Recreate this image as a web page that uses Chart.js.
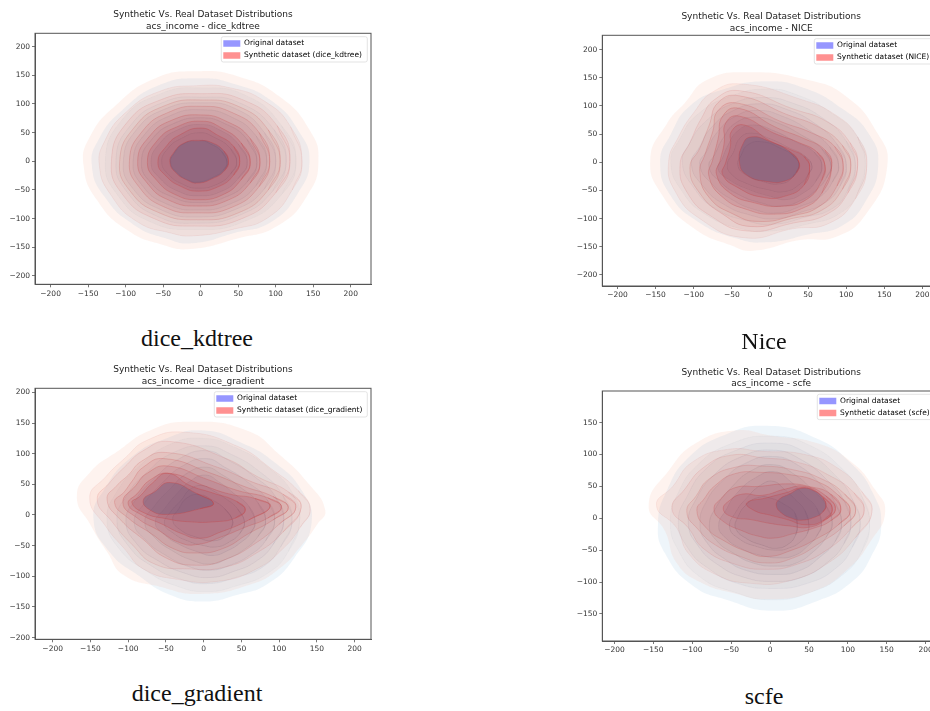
<!DOCTYPE html>
<html>
<head>
<title>Synthetic Vs. Real Dataset Distributions</title>
<script src="https://cdn.jsdelivr.net/npm/chart.js"></script>
<style>
html, body { margin: 0; padding: 0; background: #fff; overflow: hidden; width: 930px; height: 711px; }
canvas { position: absolute; filter: blur(0.45px); }
.caption { position: absolute; font-family: "Liberation Serif", serif; font-size: 24px; color: #111; transform: translateX(-50%); white-space: nowrap; line-height: 28px; }
</style>
</head>
<body>
<canvas id="c1" width="400" height="320" style="left:0;top:0"></canvas>
<canvas id="c2" width="400" height="320" style="left:560px;top:0"></canvas>
<canvas id="c3" width="400" height="320" style="left:0;top:355px"></canvas>
<canvas id="c4" width="400" height="320" style="left:560px;top:355px"></canvas>
<div class="caption" style="left:197px;top:324px">dice_kdtree</div>
<div class="caption" style="left:764px;top:327px">Nice</div>
<div class="caption" style="left:197px;top:679px">dice_gradient</div>
<div class="caption" style="left:764px;top:682px">scfe</div>

<script>
// tick labels
const ticks400 = [-200, -150, -100, -50, 0, 50, 100, 150, 200];
const ticks150 = [-150, -100, -50, 0, 50, 100, 150];

const kdtreeOriginal = [
  [145,0, 132,50, 95,105, 45,135, -3,145, -55,133, -104,90, -136,38, -145,-8, -128,-62, -90,-110, -45,-135, -12,-143, 45,-125, 95,-105, 130,-55],
  [127,0, 108,62, 60,115, 0,128, -55,117, -105,72, -127,0, -110,-60, -68,-105, -8,-119, 58,-105, 108,-58],
  [114,0, 98,55, 52,102, 0,112, -50,103, -94,62, -113,0, -98,-54, -58,-96, -6,-108, 52,-94, 96,-52],
  [100,0, 85,50, 46,92, 0,102, -46,92, -85,56, -103,0, -90,-48, -52,-85, -5,-97, 46,-84, 85,-48],
  [88,0, 74,44, 40,78, 0,90, -40,80, -74,48, -90,0, -78,-42, -46,-74, -4,-85, 40,-74, 74,-42],
  [75,-2, 62,38, 32,66, 0,76, -36,66, -64,40, -79,-1, -66,-38, -38,-62, -4,-72, 34,-62, 62,-36],
  [62,-2, 50,30, 26,54, 0,64, -30,55, -54,32, -66,-2, -54,-30, -30,-52, -3,-60, 28,-52, 50,-30],
  [48,-2, 40,22, 18,42, -2,50, -26,40, -44,22, -52,-2, -42,-24, -24,-40, -4,-47, 22,-40, 40,-22],
  [35,-2, 28,17, 12,31, -2,37, -22,31, -35,14, -40,-3, -31,-20, -16,-33, -2,-36, 16,-28, 30,-16]
];
const kdtreeSynthetic = [
  [157,0, 145,55, 105,113, 50,148, -5,157, -60,145, -113,98, -148,42, -156,-8, -138,-68, -98,-120, -50,-146, -14,-153, 48,-135, 102,-113, 142,-60],
  [135,0, 120,60, 85,105, 40,128, -5,132, -55,122, -100,85, -128,35, -135,-8, -120,-58, -85,-105, -40,-125, -10,-130, 45,-118, 90,-98, 122,-50],
  [119,0, 102,62, 55,108, 0,118, -52,108, -98,68, -119,0, -104,-58, -62,-100, -8,-113, 55,-100, 100,-55],
  [106,0, 90,55, 50,96, 0,107, -48,97, -88,60, -108,0, -94,-52, -55,-90, -5,-102, 50,-90, 90,-50],
  [92,0, 78,50, 42,85, 0,96, -42,86, -78,52, -95,0, -82,-45, -48,-80, -5,-90, 42,-80, 78,-44],
  [79,-2, 66,40, 34,70, 0,81, -38,72, -68,44, -84,0, -70,-40, -42,-68, -5,-78, 36,-68, 66,-38],
  [66,-2, 54,32, 28,58, 2,70, -32,60, -58,36, -71,-2, -58,-34, -34,-58, -4,-67, 30,-58, 54,-32],
  [52,0, 44,26, 22,46, 0,58, -28,46, -46,26, -57,-2, -46,-26, -26,-44, -4,-52, 24,-44, 44,-24],
  [37,0, 31,18, 14,33, -2,36, -22,32, -36,15, -41,-2, -33,-20, -18,-33, -4,-38, 16,-30, 32,-16]
];
const niceOriginal = [
  [142,-5, 130,50, 95,95, 45,132, -5,144, -60,130, -105,100, -130,50, -144,0, -130,-60, -95,-105, -45,-135, -5,-142, 50,-128, 95,-112, 125,-70],
  [125,-3, 115,45, 80,88, 35,120, -5,130, -50,118, -95,85, -118,42, -130,0, -115,-52, -85,-92, -38,-118, 0,-122, 48,-110, 90,-92, 115,-55],
  [112,-5, 100,38, 70,78, 28,106, -8,115, -48,105, -85,72, -105,35, -115,0, -100,-45, -72,-82, -30,-104, 5,-110, 45,-98, 82,-82, 102,-50],
  [100,-5, 88,32, 60,68, 22,94, -12,104, -48,92, -78,60, -92,28, -103,-3, -88,-42, -60,-75, -25,-94, 8,-100, 42,-88, 72,-72, 92,-42],
  [90,-5, 78,28, 50,58, 16,82, -15,92, -45,82, -70,52, -82,22, -92,-5, -75,-40, -50,-66, -20,-84, 10,-90, 40,-78, 65,-62, 82,-35],
  [80,-5, 68,24, 42,48, 10,70, -18,80, -45,70, -62,42, -72,15, -80,-8, -65,-35, -40,-58, -12,-72, 15,-78, 40,-68, 60,-50, 74,-28],
  [68,-6, 58,18, 34,36, 5,56, -22,66, -42,56, -55,30, -62,8, -68,-12, -52,-32, -28,-48, 0,-60, 22,-66, 44,-54, 60,-34],
  [55,-6, 45,12, 25,26, 0,42, -25,52, -40,42, -48,18, -56,-4, -50,-22, -30,-38, -5,-48, 20,-52, 40,-38, 50,-22],
  [38,-4, 30,12, 12,26, -8,36, -28,32, -38,12, -42,-6, -32,-22, -10,-34, 14,-38, 30,-26]
];
const niceSynthetic = [
  [154,-5, 140,54, 100,117, 50,146, -30,160, -83,146, -112,105, -135,69, -157,5, -140,-61, -100,-117, -52,-147, -22,-157, 39,-138, 87,-132, 127,-90],
  [127,-5, 115,45, 85,85, 40,112, -37,139, -75,125, -100,88, -120,45, -133,0, -125,-50, -92,-100, -33,-134, 30,-118, 78,-108, 112,-65],
  [115,-5, 105,35, 75,72, 30,95, -39,127, -72,112, -90,78, -105,35, -118,-5, -108,-55, -78,-95, -30,-122, 30,-108, 75,-92, 102,-55],
  [106,-5, 95,30, 65,62, 22,85, -40,118, -68,106, -80,65, -92,25, -105,-10, -92,-55, -62,-92, -25,-114, 28,-100, 68,-85, 95,-48],
  [96,-5, 85,28, 55,52, 15,72, -42,105, -68,92, -75,55, -85,15, -92,-18, -80,-62, -48,-92, -15,-105, 30,-95, 65,-78, 88,-42],
  [81,-5, 72,22, 45,42, 8,62, -41,96, -62,82, -68,42, -75,5, -80,-25, -62,-62, -30,-84, 5,-92, 42,-82, 68,-55],
  [72,-5, 62,18, 38,35, 5,52, -40,82, -58,70, -60,35, -65,5, -70,-22, -52,-55, -20,-72, 15,-78, 48,-66, 68,-32],
  [52,-8, 45,10, 28,22, 0,38, -33,66, -50,56, -52,28, -58,0, -62,-22, -42,-45, -10,-62, 20,-60, 45,-40],
  [38,0, 25,20, 0,37, -25,45, -36,31, -40,0, -31,-22, -4,-34, 20,-33, 35,-18]
];
const gradientOriginal = [
  [143,-12, 130,40, 95,85, 50,118, 0,138, -50,125, -95,95, -130,45, -146,-5, -125,-60, -85,-100, -45,-130, 0,-141, 45,-130, 85,-112, 120,-70],
  [127,-10, 118,35, 85,78, 42,110, 0,125, -45,115, -85,80, -115,38, -128,-8, -112,-55, -75,-92, -38,-115, 3,-125, 45,-115, 85,-95, 112,-60],
  [117,-10, 105,32, 75,70, 35,100, 2,113, -40,102, -75,70, -102,32, -115,-8, -100,-50, -68,-84, -30,-105, 5,-112, 42,-102, 78,-85, 102,-52],
  [106,-10, 95,30, 68,62, 32,90, 3,105, -32,92, -65,60, -90,25, -103,-10, -88,-48, -60,-75, -25,-95, 8,-102, 40,-92, 70,-75, 92,-48],
  [94,-10, 84,25, 58,54, 28,78, 3,92, -28,80, -55,52, -78,20, -92,-12, -76,-42, -50,-66, -20,-84, 8,-90, 35,-82, 62,-65, 82,-42],
  [82,-10, 72,20, 50,44, 24,66, 3,78, -22,68, -45,42, -65,15, -78,-12, -64,-38, -42,-58, -15,-74, 10,-80, 30,-72, 54,-56, 72,-35],
  [68,-12, 60,14, 40,35, 20,54, 2,65, -18,55, -36,34, -52,10, -64,-12, -52,-32, -32,-48, -8,-60, 12,-66, 32,-58, 50,-44, 62,-30],
  [54,-12, 45,10, 30,26, 12,40, -2,48, -18,42, -30,24, -44,5, -52,-14, -40,-30, -22,-42, 0,-50, 18,-52, 34,-44, 48,-30],
  [38,-8, 28,10, 12,24, -5,33, -22,28, -33,10, -41,-8, -30,-25, -10,-36, 13,-42, 30,-33, 37,-20]
];
const gradientSynthetic = [
  [161,8, 139,51, 101,98, 57,138, -18,152, -71,138, -115,103, -150,70, -168,30, -150,-16, -128,-60, -106,-98, -58,-117, -5,-129, 61,-114, 101,-87, 130,-49, 150,-16],
  [141,10, 125,40, 90,75, 45,112, -25,135, -75,122, -105,92, -130,62, -151,28, -130,-18, -105,-55, -80,-88, -35,-105, 20,-108, 70,-88, 105,-55, 128,-20],
  [129,12, 112,38, 72,62, 30,92, -45,120, -80,105, -105,78, -125,52, -141,25, -122,-10, -95,-48, -65,-80, -20,-88, 28,-85, 70,-62, 105,-28],
  [122,12, 105,34, 62,55, 18,78, -50,102, -82,88, -100,65, -115,48, -128,25, -110,-8, -80,-40, -50,-70, -10,-82, 30,-72, 70,-45, 100,-15],
  [112,12, 92,30, 55,46, 10,68, -52,92, -80,78, -95,55, -105,38, -118,20, -100,-5, -70,-30, -40,-55, -10,-62, 25,-55, 60,-30, 92,-8],
  [103,13, 85,28, 45,40, 5,58, -48,80, -75,68, -90,48, -107,20, -88,-5, -60,-25, -32,-45, -8,-48, 25,-35, 55,-20, 85,-5],
  [88,14, 68,27, 35,34, 0,48, -45,68, -70,58, -88,35, -100,18, -82,0, -55,-15, -30,-30, -5,-38, 22,-28, 60,-8],
  [55,8, 44,22, 12,36, -18,48, -48,68, -68,52, -85,30, -95,20, -78,3, -50,-6, -20,-11, 15,-11, 42,-5],
  [13,19, -9,35, -45,53, -65,38, -80,24, -71,8, -49,1, -5,10]
];
const scfeOriginal = [
  [143,-10, 132,40, 105,85, 60,125, -4,145, -60,130, -105,95, -132,45, -144,-8, -135,-55, -100,-105, -55,-128, 4,-145, 60,-130, 105,-100, 130,-60],
  [128,-8, 118,35, 95,75, 50,115, 0,129, -52,116, -92,85, -118,40, -128,-6, -118,-50, -90,-92, -48,-115, 3,-128, 52,-116, 92,-90, 118,-52],
  [116,-8, 106,30, 85,66, 45,104, 2,118, -45,106, -82,78, -106,36, -118,-6, -106,-46, -80,-78, -42,-102, 4,-110, 48,-102, 85,-78, 106,-45],
  [104,-8, 96,26, 75,58, 40,92, 3,107, -38,96, -72,68, -95,30, -105,-8, -92,-44, -68,-72, -35,-92, 5,-99, 42,-92, 75,-68, 95,-40],
  [92,-8, 84,24, 66,52, 35,84, 3,97, -32,86, -60,60, -82,26, -90,-10, -80,-40, -58,-64, -30,-82, 8,-88, 38,-82, 65,-60, 84,-36],
  [80,-8, 72,20, 55,44, 30,70, 4,84, -25,74, -50,48, -68,20, -78,-12, -68,-36, -48,-54, -22,-70, 10,-75, 34,-70, 56,-52, 72,-30],
  [66,-10, 60,16, 44,36, 26,58, 6,73, -18,64, -42,40, -56,14, -66,-12, -56,-32, -36,-48, -12,-58, 12,-62, 32,-58, 48,-44, 60,-28],
  [50,-10, 45,12, 32,30, 18,46, 4,58, -12,52, -30,32, -44,10, -52,-14, -40,-32, -18,-44, 8,-50, 26,-46, 40,-36, 48,-24],
  [35,-12, 32,8, 18,22, 0,32, -14,33, -30,22, -42,0, -44,-16, -30,-32, -10,-42, 8,-47, 24,-40, 33,-26]
];
const scfeSynthetic = [
  [148,10, 135,45, 105,88, 60,118, 0,130, -43,138, -95,118, -130,75, -156,21, -135,-20, -120,-70, -90,-100, -45,-118, -5,-127, 55,-115, 100,-80, 130,-35],
  [131,10, 118,42, 88,78, 45,100, -10,105, -55,108, -100,88, -125,50, -146,20, -120,-15, -105,-55, -70,-88, -25,-102, 25,-98, 75,-70, 110,-30],
  [121,12, 108,40, 75,68, 35,88, -10,95, -50,99, -85,80, -110,45, -126,15, -105,-15, -85,-48, -45,-72, -5,-80, 35,-72, 75,-48, 105,-15],
  [110,12, 96,38, 66,62, 30,76, -10,82, -45,80, -78,62, -95,35, -107,10, -92,-18, -70,-42, -38,-60, -5,-70, 30,-62, 65,-38, 95,-12],
  [103,12, 88,36, 60,58, 28,68, -12,72, -45,70, -70,52, -85,30, -94,12, -82,-15, -58,-36, -30,-52, -5,-60, 28,-50, 60,-32, 88,-10],
  [91,14, 78,38, 50,50, 22,54, -15,50, -45,48, -62,32, -72,14, -60,-5, -35,-20, -15,-28, 5,-31, 30,-24, 55,-16, 78,-4],
  [84,15, 72,35, 45,50, 20,46, -10,36, -35,38, -52,28, -60,14, -48,2, -25,-2, 0,-8, 25,-12, 50,-14, 72,-2],
  [80,14, 68,34, 45,48, 20,40, -5,32, -30,24, -20,12, 0,5, 22,-2, 45,-10, 68,-4],
  [72,20, 68,32, 55,44, 40,47, 25,38, 12,30, 8,20, 15,8, 28,0, 40,-3, 58,2, 68,10]
];

const blueFills = ['rgba(150,190,225,.16)','rgba(140,165,190,.08)','rgba(120,145,175,.07)','rgba(110,130,165,.07)','rgba(100,120,155,.07)','rgba(85,105,145,.07)','rgba(70,90,135,.07)','rgba(55,75,125,.07)','rgba(50,70,125,.06)'];
const redFills = ['rgba(245,150,110,.11)','rgba(235,125,95,.10)','rgba(220,105,85,.09)','rgba(200,85,80,.10)','rgba(180,65,75,.11)','rgba(165,50,70,.12)','rgba(150,40,70,.13)','rgba(135,35,70,.13)','rgba(90,85,125,.32)'];
const blueLineAlpha = [0, .06, .10, .14, .18, .22, .26, .30, .36];
const redLineAlpha = [0, .12, .20, .28, .34, .40, .45, .50, .55];

function toPoints(flat) {
  const pts = [];
  for (let i = 0; i < flat.length; i += 2) pts.push({ x: flat[i], y: flat[i + 1] });
  // wrap around by one point each side so the spline has no corner at the seam
  return [pts[pts.length - 1]].concat(pts, [pts[0], pts[1]]);
}

function levelDatasets(levels, fills, lineRgb, lineAlpha) {
  return levels.map((lv, i) => ({
    data: toPoints(lv),
    showLine: true,
    fill: 'shape',
    tension: 0.5,
    backgroundColor: fills[i],
    borderColor: 'rgba(' + lineRgb + ',' + lineAlpha[i] + ')',
    borderWidth: 0.6,
    pointRadius: 0
  }));
}

function makePanel(p) {
  // chart.js paints the last dataset first, so reverse to get blue then red, outer then inner
  const datasets = levelDatasets(p.original, blueFills, '70,90,130', blueLineAlpha)
    .concat(levelDatasets(p.synthetic, redFills, '200,60,60', redLineAlpha))
    .reverse();

  const axis = (min, max, values) => ({
    type: 'linear', min: min, max: max,
    afterBuildTicks: s => { s.ticks = values.map(v => ({ value: v })); },
    border: { color: '#555', width: 1 },
    grid: { drawOnChartArea: false, tickLength: 3, tickColor: '#555', tickWidth: 0.8 },
    ticks: {
      autoSkip: false, maxRotation: 0, padding: 2, color: '#333',
      font: { family: 'DejaVu Sans', size: 7.5 },
      callback: v => String(v).replace('-', '\u2212')
    }
  });
  const xAxis = axis(p.xRange[0], p.xRange[1], p.xTicks);
  xAxis.afterFit = s => { s.height = 320 - p.area.bottom; };
  const yAxis = axis(p.yRange[0], p.yRange[1], p.yTicks);
  yAxis.afterFit = s => { s.width = p.area.left; };

  const framePlugin = {
    id: 'frame',
    afterLayout(chart) {
      const lg = chart.legend;
      lg.left = p.legend.left - 2.5;
      lg.top = p.legend.top - 1.5;
      lg.right = 400;
      lg.bottom = p.legend.top + 28;
    },
    beforeDraw(chart) {
      const c = chart.ctx;
      c.save();
      c.beginPath();
      c.roundRect(p.legend.left, p.legend.top, p.legend.width, 25.3, 2);
      c.strokeStyle = '#dcdcdc';
      c.lineWidth = 0.8;
      c.stroke();
      c.restore();
    },
    afterDraw(chart) {
      const a = chart.chartArea, c = chart.ctx;
      c.save();
      c.strokeStyle = '#555';
      c.lineWidth = 1;
      c.strokeRect(a.left, a.top, a.right - a.left, a.bottom - a.top);
      c.restore();
    }
  };

  new Chart(document.getElementById(p.id), {
    type: 'scatter',
    data: { datasets: datasets },
    plugins: [framePlugin],
    options: {
      responsive: false,
      animation: false,
      events: [],
      layout: { padding: { right: 400 - p.area.right } },
      scales: { x: xAxis, y: yAxis },
      plugins: {
        tooltip: { enabled: false },
        title: {
          display: true,
          fullSize: false,
          text: ['Synthetic Vs. Real Dataset Distributions', 'acs_income - ' + p.name],
          color: '#222',
          font: { family: 'DejaVu Sans', size: 9, weight: 'normal', lineHeight: 1.27 },
          padding: { top: p.area.top - 24, bottom: 1.14 }
        },
        legend: {
          position: 'chartArea',
          align: 'start',
          labels: {
            boxWidth: 17, boxHeight: 6.5, padding: 4.5, color: '#333',
            font: { family: 'DejaVu Sans', size: 7.5 },
            generateLabels: () => [
              { text: 'Original dataset', fillStyle: 'rgba(150,150,255,1)', strokeStyle: 'rgba(150,150,255,1)', lineWidth: 0 },
              { text: 'Synthetic dataset (' + p.name + ')', fillStyle: 'rgba(255,145,145,1)', strokeStyle: 'rgba(255,145,145,1)', lineWidth: 0 }
            ]
          }
        }
      }
    }
  });
}

makePanel({ id: 'c1', name: 'dice_kdtree', original: kdtreeOriginal, synthetic: kdtreeSynthetic,
  xRange: [-220.8, 227], yRange: [-214.5, 223.3], xTicks: ticks400, yTicks: ticks400,
  area: { left: 35, right: 371, top: 33.3, bottom: 284.3 }, legend: { left: 221.3, top: 36.7, width: 146 } });
makePanel({ id: 'c2', name: 'NICE', original: niceOriginal, synthetic: niceSynthetic,
  xRange: [-219.9, 223], yRange: [-219.6, 225.5], xTicks: ticks400, yTicks: ticks400,
  area: { left: 42.3, right: 380, top: 35.3, bottom: 286 }, legend: { left: 254.3, top: 38.7, width: 130 } });
makePanel({ id: 'c3', name: 'dice_gradient', original: gradientOriginal, synthetic: gradientSynthetic,
  xRange: [-223.4, 221.6], yRange: [-202.8, 206.7], xTicks: ticks400, yTicks: ticks400,
  area: { left: 35, right: 371, top: 33.3, bottom: 284.3 }, legend: { left: 214.3, top: 36.7, width: 153 } });
makePanel({ id: 'c4', name: 'scfe', original: scfeOriginal, synthetic: scfeSynthetic,
  xRange: [-215.6, 218.5], yRange: [-192.4, 199.6], xTicks: ticks400, yTicks: ticks150,
  area: { left: 42.3, right: 380, top: 36, bottom: 286 }, legend: { left: 257.3, top: 39.3, width: 125 } });
</script>
</body>
</html>
